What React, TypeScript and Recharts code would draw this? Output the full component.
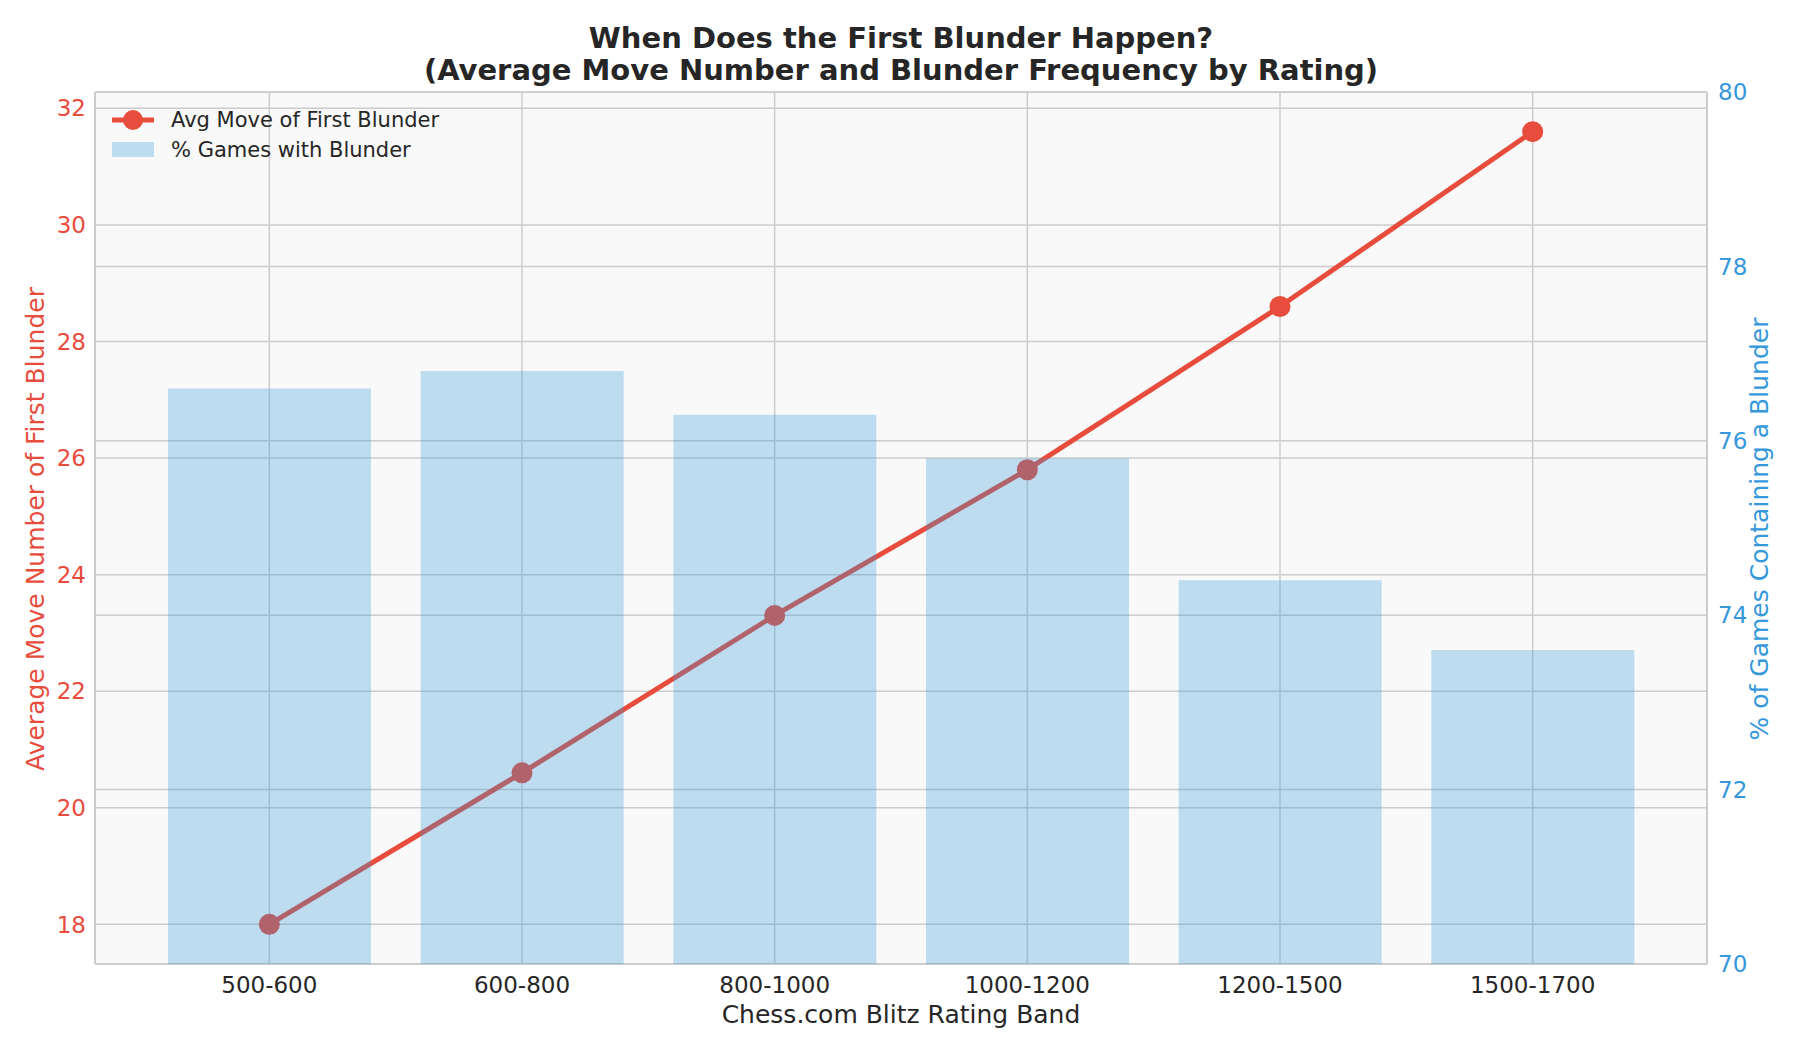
import React from 'react';
import { ComposedChart, Line, Bar, XAxis, YAxis, CartesianGrid, Legend } from 'recharts';

const categories = ['500-600', '600-800', '800-1000', '1000-1200', '1200-1500', '1500-1700'];
const avgMoveFirstBlunder = [18.0, 20.6, 23.3, 25.8, 28.6, 31.6];
const pctGamesWithBlunder = [76.6, 76.8, 76.3, 75.8, 74.4, 73.6];
const leftTicks = [18, 20, 22, 24, 26, 28, 30, 32];
const rightTicks = [70, 72, 74, 76, 78, 80];

const data = categories.map((band, i) => ({
  band,
  avg: avgMoveFirstBlunder[i],
  pct: pctGamesWithBlunder[i],
}));

const RED = '#e74c3c';
const BLUE = '#3498db';
const DARK = '#262626';
const GRID = '#cccccc';
const FONT = '"DejaVu Sans", sans-serif';

const LegendContent = () => (
  <div style={{ fontFamily: FONT, fontSize: 21, color: DARK, lineHeight: '30px' }}>
    <div style={{ display: 'flex', alignItems: 'center', height: 30 }}>
      <svg width={42} height={30}>
        <line x1={0} y1={15} x2={42} y2={15} stroke={RED} strokeWidth={5} />
        <circle cx={21} cy={15} r={10} fill={RED} />
      </svg>
      <span style={{ marginLeft: 17 }}>Avg Move of First Blunder</span>
    </div>
    <div style={{ display: 'flex', alignItems: 'center', height: 30 }}>
      <svg width={42} height={30}>
        <rect x={0} y={7} width={42} height={15} fill={BLUE} fillOpacity={0.3} />
      </svg>
      <span style={{ marginLeft: 17 }}>% Games with Blunder</span>
    </div>
  </div>
);

export default function App() {
  return (
    <div style={{ position: 'absolute', left: 0, top: 0, width: 1800, height: 1050, background: '#fff', fontFamily: FONT }}>
      <div
        style={{
          position: 'absolute', left: 401, top: 22, width: 1000, textAlign: 'center',
          fontWeight: 'bold', fontSize: 29, lineHeight: '32px', color: DARK,
        }}
      >
        When Does the First Blunder Happen?
        <br />
        (Average Move Number and Blunder Frequency by Rating)
      </div>
      <ComposedChart
        width={1800}
        height={1050}
        data={data}
        margin={{ top: 92, right: 0, bottom: 0, left: 0 }}
      >
        <CartesianGrid yAxisId="left" stroke={GRID} strokeWidth={1.5} fill="#f9f9f9" fillOpacity={1} vertical={true} horizontal={true} />
        <CartesianGrid yAxisId="right" stroke={GRID} strokeWidth={1.5} vertical={false} horizontal={true} />
        <XAxis
          dataKey="band"
          height={86}
          padding={{ left: 48, right: 48 }}
          tickLine={false}
          tickSize={0}
          tickMargin={13}
          axisLine={{ stroke: GRID, strokeWidth: 2 }}
          tick={{ fill: DARK, fontSize: 23, fontFamily: FONT }}
        />
        <XAxis
          xAxisId="top"
          dataKey="band"
          orientation="top"
          height={0}
          padding={{ left: 48, right: 48 }}
          tick={false}
          tickLine={false}
          axisLine={{ stroke: GRID, strokeWidth: 2 }}
        />
        <YAxis
          yAxisId="left"
          type="number"
          domain={[17.32, 32.28]}
          ticks={leftTicks}
          width={95}
          tickLine={false}
          tickSize={0}
          tickMargin={9}
          axisLine={{ stroke: GRID, strokeWidth: 2 }}
          tick={{ fill: RED, fontSize: 23, fontFamily: FONT }}
          allowDataOverflow
        />
        <YAxis
          yAxisId="right"
          orientation="right"
          type="number"
          domain={[70, 80]}
          ticks={rightTicks}
          width={93}
          tickLine={false}
          tickSize={0}
          tickMargin={11}
          axisLine={{ stroke: GRID, strokeWidth: 2 }}
          tick={{ fill: BLUE, fontSize: 23, fontFamily: FONT }}
          allowDataOverflow
        />
        <Line
          yAxisId="left"
          dataKey="avg"
          stroke={RED}
          strokeWidth={5}
          dot={{ r: 10.5, fill: RED, stroke: RED, strokeWidth: 0 }}
          activeDot={false}
          isAnimationActive={false}
          zIndex={400}
        />
        <Bar
          yAxisId="right"
          dataKey="pct"
          fill={BLUE}
          fillOpacity={0.3}
          barSize={203}
          isAnimationActive={false}
          zIndex={1500}
        />
        <Legend
          content={LegendContent}
          layout="vertical"
          align="center"
          verticalAlign="middle"
          wrapperStyle={{ left: 112, top: 105, width: 'auto' }}
        />
      </ComposedChart>
      <div
        style={{
          position: 'absolute', left: 401, top: 1000, width: 1000, textAlign: 'center',
          fontSize: 25, lineHeight: '30px', color: DARK,
        }}
      >
        Chess.com Blitz Rating Band
      </div>
      <div
        style={{
          position: 'absolute', left: 36 - 400, top: 529 - 15, width: 800, textAlign: 'center',
          fontSize: 25, lineHeight: '30px', color: RED, transform: 'rotate(-90deg)',
        }}
      >
        Average Move Number of First Blunder
      </div>
      <div
        style={{
          position: 'absolute', left: 1760 - 400, top: 529 - 15, width: 800, textAlign: 'center',
          fontSize: 25, lineHeight: '30px', color: BLUE, transform: 'rotate(-90deg)',
        }}
      >
        % of Games Containing a Blunder
      </div>
    </div>
  );
}
